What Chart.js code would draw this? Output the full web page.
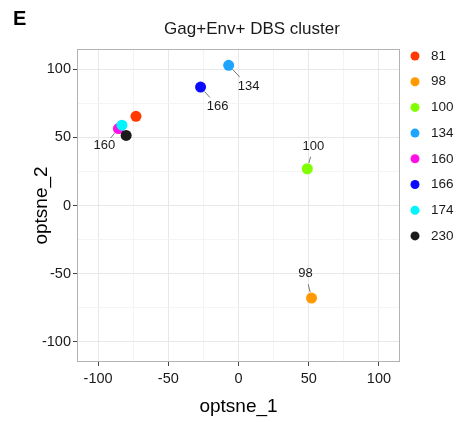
<!DOCTYPE html>
<html lang="en">
<head>
  <meta charset="UTF-8">
  <title>Gag+Env+ DBS cluster</title>
  <script src="https://cdn.jsdelivr.net/npm/chart.js"></script>
  <style>
    body { margin: 0; background: white; }
    canvas { display: block; }
  </style>
</head>
<body>
  <canvas id="chart" width="458" height="422"></canvas>

  <script>
    // cluster ids and their optsne coordinates
    const clusters = ["81", "98", "100", "134", "160", "166", "174", "230"];
    const optsne1 = [-73, 52, 49, -7, -85.5, -27, -83, -80];
    const optsne2 = [65.5, -68, 27, 103, 56.5, 87, 59, 51.5];
    const colors = ["#FF3A00", "#FF9A00", "#80FF00", "#1CA4FF", "#FF10E4", "#0A0AFF", "#00F5FF", "#1A1A1A"];
    const majorTicks = [-100, -50, 0, 50, 100];
    const allGrid = [-100, -75, -50, -25, 0, 25, 50, 75, 100];

    // which clusters get a text label, and pixel offset of the label
    const labelOffsets = {
      "134": [20, 21],
      "166": [17, 19],
      "160": [-14, 17],
      "100": [6, -22],
      "98": [-6, -25]
    };

    const FONT = "'Liberation Sans', Arial, sans-serif";

    // later clusters drawn on top, like the original
    const datasets = clusters.map((c, i) => ({
      label: c,
      data: [{ x: optsne1[i], y: optsne2[i] }],
      backgroundColor: colors[i],
      borderColor: colors[i],
      borderWidth: 0,
      pointRadius: 5.5,
      pointHoverRadius: 5.5,
      order: clusters.length - i
    }));

    const extras = {
      id: "extras",
      afterDraw(chart) {
        const ctx = chart.ctx;
        const area = chart.chartArea;
        ctx.save();
        // panel border
        ctx.strokeStyle = "#b3b3b3";
        ctx.lineWidth = 1;
        ctx.strokeRect(area.left + 0.5, area.top + 0.5, area.right - area.left - 1, area.bottom - area.top - 1);

        // point labels with leader lines
        ctx.font = "13px " + FONT;
        ctx.textAlign = "center";
        ctx.textBaseline = "middle";
        chart.data.datasets.forEach((ds, i) => {
          const off = labelOffsets[ds.label];
          if (!off) return;
          const pt = chart.getDatasetMeta(i).data[0];
          const lx = pt.x + off[0], ly = pt.y + off[1];
          const len = Math.hypot(off[0], off[1]);
          const ux = off[0] / len, uy = off[1] / len;
          ctx.strokeStyle = "#555";
          ctx.lineWidth = 0.8;
          ctx.beginPath();
          ctx.moveTo(pt.x + ux * 6, pt.y + uy * 6);
          ctx.lineTo(lx - ux * (len * 0.45), ly - uy * (len * 0.45));
          ctx.stroke();
          ctx.fillStyle = "#1a1a1a";
          ctx.fillText(ds.label, lx, ly);
        });

        // legend on the right
        ctx.textAlign = "left";
        ctx.font = "13.5px " + FONT;
        chart.data.datasets.forEach((ds, i) => {
          const y = 56 + i * 25.7;
          ctx.fillStyle = ds.backgroundColor;
          ctx.beginPath();
          ctx.arc(415, y, 4.5, 0, Math.PI * 2);
          ctx.fill();
          ctx.fillStyle = "#1a1a1a";
          ctx.fillText(ds.label, 431, y);
        });

        // title and panel letter
        ctx.textAlign = "center";
        ctx.font = "17px " + FONT;
        ctx.fillText("Gag+Env+ DBS cluster", 252, 29);
        ctx.textAlign = "left";
        ctx.font = "bold 20px " + FONT;
        ctx.fillStyle = "#000";
        ctx.fillText("E", 13, 19);
        ctx.restore();
      }
    };

    const gridColor = (c) => (c.tick && majorTicks.includes(c.tick.value)) ? "#e8e8e8" : "#f4f4f4";
    const tickColor = (c) => (c.tick && majorTicks.includes(c.tick.value)) ? "#444" : "rgba(0,0,0,0)";

    new Chart(document.getElementById("chart").getContext("2d"), {
      type: "scatter",
      data: { datasets: datasets },
      options: {
        responsive: false,
        animation: false,
        layout: { padding: { top: 49, right: 58, left: 0, bottom: 0 } },
        plugins: { legend: { display: false }, tooltip: { enabled: false } },
        scales: {
          x: {
            min: -115, max: 115,
            afterBuildTicks: (s) => { s.ticks = allGrid.map(v => ({ value: v })); },
            afterFit: (s) => { s.height = 60; },
            grid: { color: gridColor, tickColor: tickColor, tickLength: 4, drawOnChartArea: true },
            border: { display: false },
            ticks: {
              autoSkip: false, maxRotation: 0, padding: 4,
              color: "#1a1a1a", font: { family: FONT, size: 14.5 },
              callback: (v) => majorTicks.includes(v) ? v : ""
            },
            title: { display: true, text: "optsne_1", color: "#000", font: { family: FONT, size: 19 }, padding: { top: 10 } }
          },
          y: {
            min: -115, max: 115,
            afterBuildTicks: (s) => { s.ticks = allGrid.map(v => ({ value: v })); },
            afterFit: (s) => { s.width = 77; },
            grid: { color: gridColor, tickColor: tickColor, tickLength: 4 },
            border: { display: false },
            ticks: {
              autoSkip: false, padding: 2,
              color: "#1a1a1a", font: { family: FONT, size: 14.5 },
              callback: (v) => majorTicks.includes(v) ? v : ""
            },
            title: { display: true, text: "optsne_2", color: "#000", font: { family: FONT, size: 19 }, padding: { bottom: 0, top: 30 } }
          }
        }
      },
      plugins: [extras]
    });
  </script>
</body>
</html>
